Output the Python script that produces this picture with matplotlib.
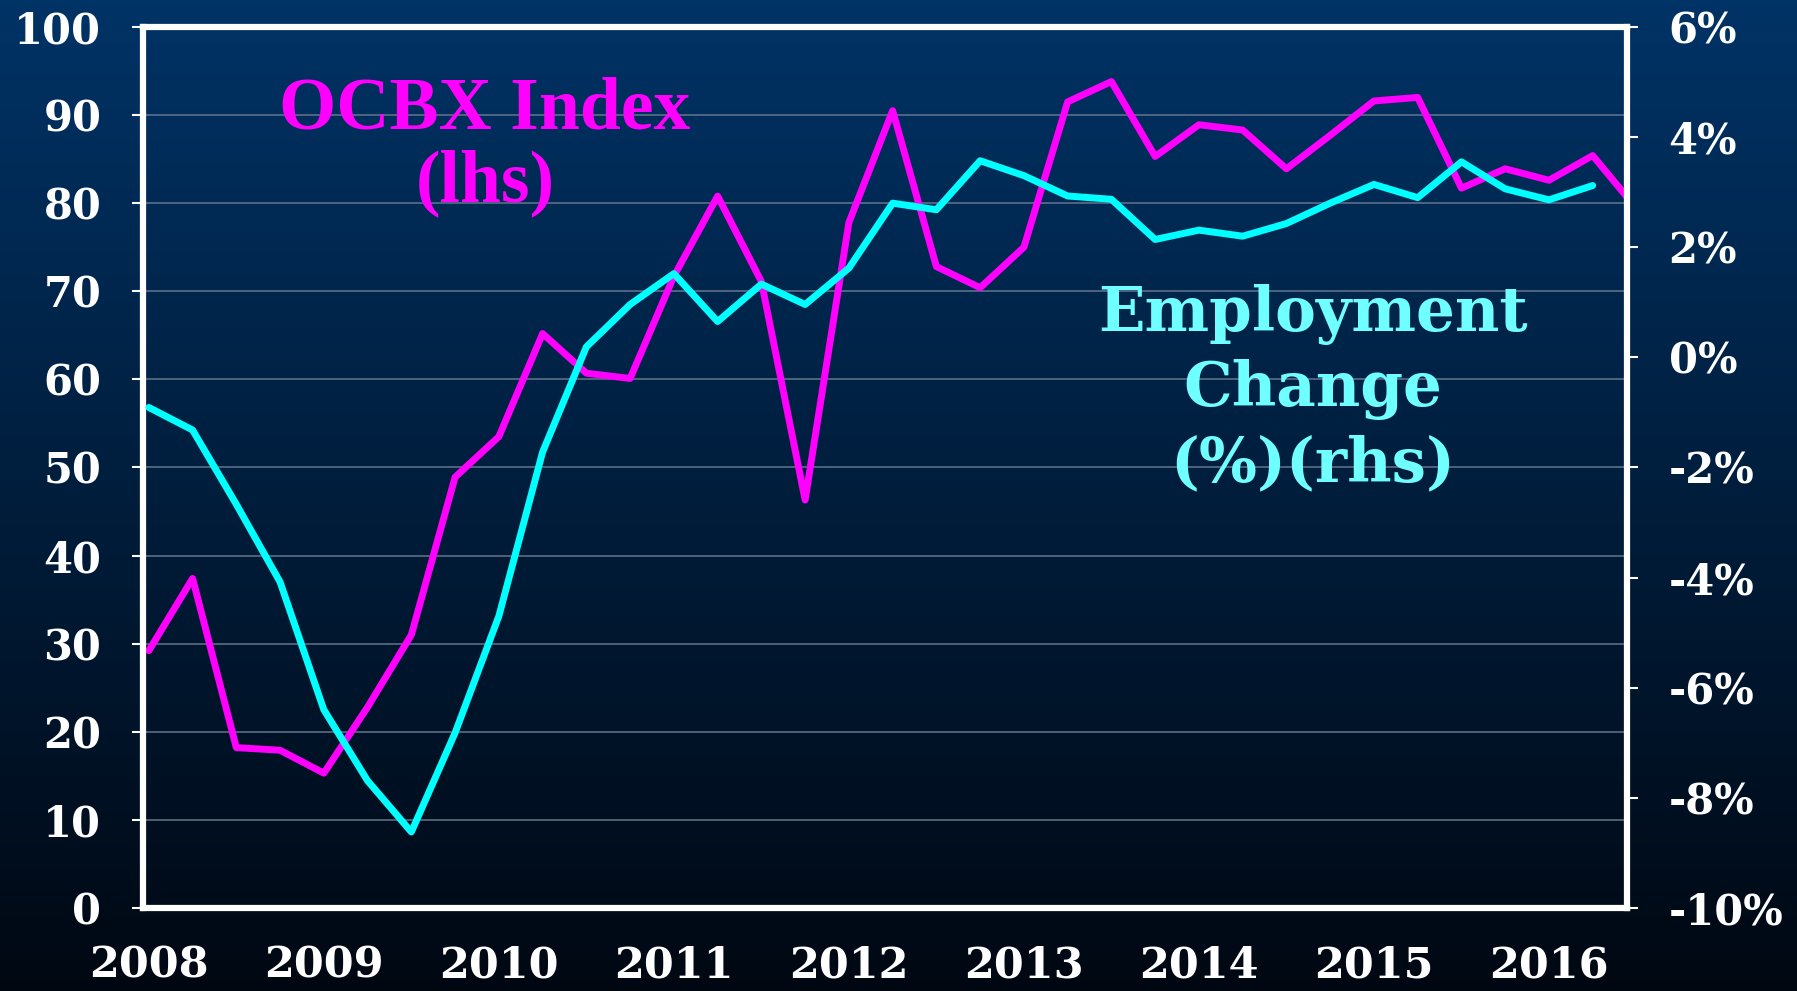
import matplotlib.pyplot as plt
import numpy as np

# OCBX index (lhs), quarterly from 2008Q1
ocbx = [29.2, 37.4, 18.2, 17.9, 15.3, 22.8, 31.0, 48.9, 53.5, 65.2, 60.7, 60.1,
        71.7, 80.8, 71.1, 46.3, 77.8, 90.5, 72.8, 70.4, 75.0, 91.5, 93.8, 85.3,
        88.9, 88.3, 83.9, 87.7, 91.6, 92.0, 81.7, 83.9, 82.6, 85.4, 79.4]

# Employment change % (rhs), quarterly from 2008Q1
employment = [-0.91, -1.32, -2.67, -4.08, -6.40, -7.69, -8.62, -6.82, -4.70, -1.72,
              0.19, 0.96, 1.52, 0.65, 1.33, 0.96, 1.62, 2.80, 2.68, 3.57,
              3.30, 2.93, 2.87, 2.14, 2.31, 2.20, 2.43, 2.80, 3.14, 2.90,
              3.55, 3.06, 2.86, 3.12]

years = list(range(2008, 2017))
lhs_ticks = list(range(0, 101, 10))
rhs_ticks = list(range(-10, 7, 2))

x_ocbx = 2008 + np.arange(len(ocbx)) * 0.25
x_emp = 2008 + np.arange(len(employment)) * 0.25

fig = plt.figure(figsize=(17.97, 9.91), dpi=100)

# gradient background over the whole figure
bg = fig.add_axes([0, 0, 1, 1], zorder=-10)
top = np.array([0.0, 0.20, 0.40])
bot = np.array([0.0, 0.03, 0.07])
t = np.linspace(0, 1, 256)[:, None]
grad = top * (1 - t) + bot * t
bg.imshow(grad[:, None, :].repeat(2, axis=1), aspect='auto', extent=[0, 1, 0, 1])
bg.axis('off')

ax = fig.add_axes([0.0796, 0.0838, 0.9054 - 0.0796, 0.9728 - 0.0838])
ax.set_facecolor('none')
ax2 = ax.twinx()

ax.plot(x_ocbx, ocbx, color='#ff00ff', lw=5, solid_joinstyle='round',
        solid_capstyle='round')
ax2.plot(x_emp, employment, color='#00ffff', lw=5, solid_joinstyle='round',
         solid_capstyle='round')

ax.set_xlim(2007.967, 2016.446)
ax.set_ylim(0, 100)
ax2.set_ylim(-10, 6)

# grid lines
for v in lhs_ticks[1:-1]:
    ax.axhline(v, color='#6a7a90', lw=1.3, alpha=0.8, zorder=0)

tick_font = dict(family='DejaVu Serif', weight='bold', size=30)

ax.set_yticks(lhs_ticks)
ax.set_yticklabels([str(v) for v in lhs_ticks], **tick_font, color='white')
ax.set_xticks(years)
ax.set_xticklabels([str(y) for y in years], family='DejaVu Serif', weight='bold',
                   size=31, color='white')
ax2.set_yticks(rhs_ticks)
ax2.set_yticklabels([f'{v}%' for v in rhs_ticks], **tick_font, color='white')

ax.tick_params(axis='y', colors='white', length=8, width=1.5, pad=22)
ax.tick_params(axis='x', length=0, pad=26)
ax2.tick_params(axis='y', colors='white', length=8, width=1.5, pad=22)

for s in ax.spines.values():
    s.set_color('white')
    s.set_linewidth(4.5)
for s in ax2.spines.values():
    s.set_visible(False)

ax.text(2009.92, 86.4, 'OCBX Index\n(lhs)', color='#ff00ff', ha='center', va='center',
        family='Liberation Serif', weight='bold', size=53, linespacing=1.1)
ax.text(2014.65, 58.9, 'Employment\nChange\n(%)(rhs)', color='#70ffff', ha='center',
        va='center', family='DejaVu Serif', weight='bold', size=44, linespacing=1.3)

fig.savefig('out.png', dpi=100)
